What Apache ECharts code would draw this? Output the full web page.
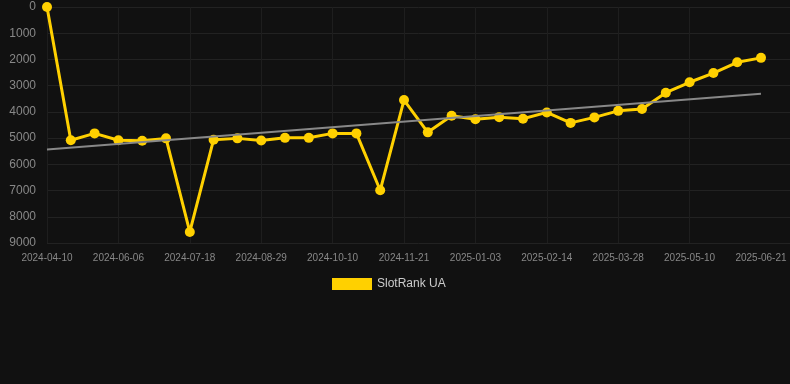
<!DOCTYPE html>
<html>
<head>
<meta charset="utf-8">
<script src="https://cdn.jsdelivr.net/npm/echarts@6/dist/echarts.min.js"></script>
<style>html,body{margin:0;padding:0;background:#111111;}#c{width:790px;height:384px;}</style>
</head>
<body>
<div id="c"></div>
<script>
const categories = ['2024-04-10','2024-04-25','2024-05-16','2024-06-06','2024-06-20','2024-07-04','2024-07-18','2024-08-01','2024-08-15','2024-08-29','2024-09-12','2024-09-26','2024-10-10','2024-10-24','2024-11-07','2024-11-21','2024-12-05','2024-12-19','2025-01-03','2025-01-17','2025-01-31','2025-02-14','2025-02-28','2025-03-14','2025-03-28','2025-04-11','2025-04-25','2025-05-10','2025-05-24','2025-06-07','2025-06-21'];
const rankValues = [0,5080,4820,5080,5100,5010,8580,5060,5010,5090,4990,4990,4820,4820,6990,3550,4780,4150,4280,4200,4260,4020,4420,4210,3960,3890,3270,2870,2520,2110,1940];
const trendStart = 5430;
const trendEnd = 3310;
const seriesName = 'SlotRank UA';
const font = 'Arial, Liberation Sans, sans-serif';

const chart = echarts.init(document.getElementById('c'));
chart.setOption({
  backgroundColor: '#111111',
  animation: false,
  grid: [
    { left: 47, right: 29, top: 7, bottom: 141 },
    { left: 47, right: 0, top: 7, bottom: 141 }
  ],
  legend: {
    top: 273, left: 327,
    itemWidth: 40, itemHeight: 12, itemGap: 10,
    textStyle: { color: '#cccccc', fontSize: 12, fontFamily: font },
    data: [{ name: seriesName, icon: 'rect' }]
  },
  xAxis: [{
    type: 'category', boundaryGap: false, data: categories, gridIndex: 0,
    axisLine: { show: false },
    axisTick: { show: false },
    axisLabel: { interval: 2, color: '#888888', fontSize: 10, margin: 10, fontFamily: font },
    splitLine: { show: true, interval: function (i) { return i % 3 === 0 && i < categories.length - 1; }, lineStyle: { color: '#1e1e1e' } }
  }, {
    type: 'category', boundaryGap: false, data: categories, gridIndex: 1, show: false
  }],
  yAxis: [{
    type: 'value', inverse: true, min: 0, max: 9000, interval: 1000, gridIndex: 0,
    axisLine: { show: false }, axisTick: { show: false },
    axisLabel: { color: '#888888', fontSize: 12, margin: 11, fontFamily: font, formatter: function (v) { return String(v); } },
    splitLine: { show: false }
  }, {
    type: 'value', inverse: true, min: 0, max: 9000, interval: 1000, gridIndex: 1,
    axisLine: { show: false }, axisTick: { show: false }, axisLabel: { show: false },
    splitLine: { show: true, lineStyle: { color: '#222222' } }
  }],
  series: [{
    name: 'trend', type: 'line', data: [], z: 1, silent: true, xAxisIndex: 0, yAxisIndex: 0,
    markLine: {
      silent: true, symbol: 'none', label: { show: false },
      lineStyle: { color: '#888888', width: 2, type: 'solid' },
      data: [[{ coord: [categories[0], trendStart] }, { coord: [categories[categories.length - 1], trendEnd] }]]
    }
  }, {
    name: seriesName, type: 'line', data: rankValues, xAxisIndex: 0, yAxisIndex: 0,
    color: '#FFD000',
    symbol: 'circle', symbolSize: 10,
    lineStyle: { width: 3, color: '#FFD000' },
    itemStyle: { color: '#FFD000' },
    z: 3
  }]
});
</script>
</body>
</html>
